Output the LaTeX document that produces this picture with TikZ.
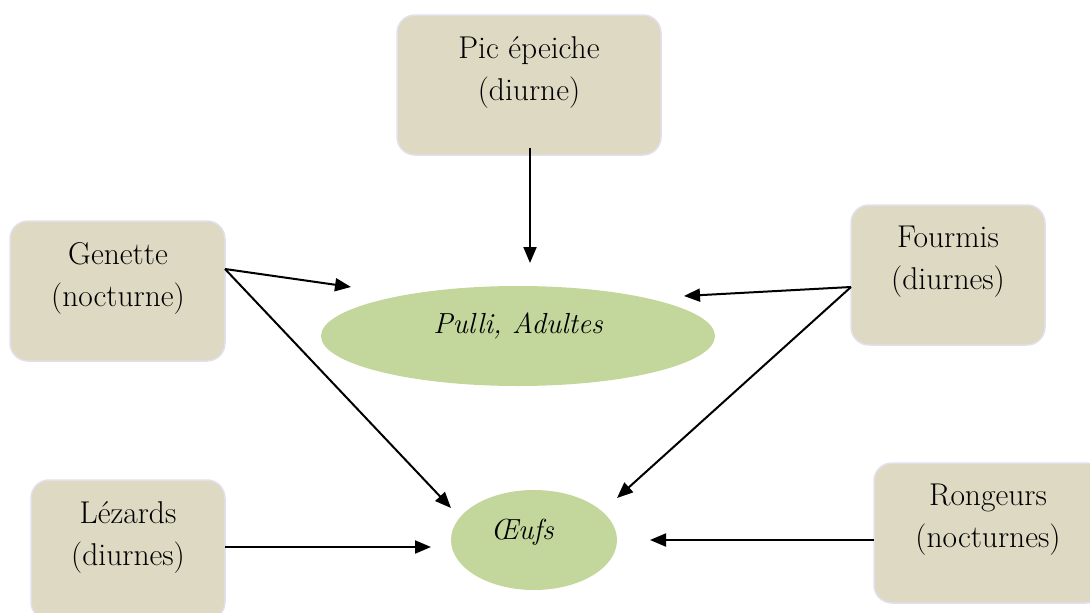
\documentclass[tikz,border=0pt]{standalone}
\usepackage{fontspec}
\usetikzlibrary{arrows.meta,shapes.geometric}
\definecolor{boxfill}{HTML}{DDD9C3}
\definecolor{boxline}{HTML}{E4DFEC}
\definecolor{ovalfill}{HTML}{C3D69B}
\tikzset{
  prey/.style={rectangle, rounded corners=18pt, fill=boxfill, draw=boxline, line width=1.5pt, inner sep=0pt},
  target/.style={ellipse, fill=ovalfill, draw=none, inner sep=0pt},
  lbl/.style={align=center, font=\fontsize{31.5}{42}\selectfont, inner sep=0pt},
  ilbl/.style={align=center, font=\fontsize{29}{42}\selectfont\itshape, inner sep=0pt},
  link/.style={line width=2pt, -{Triangle[length=16pt,width=13pt]}}
}
\begin{document}
\begin{tikzpicture}[x=1pt,y=-1pt]
  \useasboundingbox (0,0) rectangle (1090,613);
  \clip (0,0) rectangle (1090,613);

  % predator boxes
  \node[prey, minimum width=264pt, minimum height=140pt] (pic) at (529,85) {};
  \node[lbl] (pict) at (529,72) {Pic épeiche\\(diurne)};

  \node[prey, minimum width=215pt, minimum height=140pt] (gen) at (117.5,291) {};
  \node[lbl] (gent) at (118,278) {Genette\\(nocturne)};

  \node[prey, minimum width=194pt, minimum height=140pt] (fou) at (948,275) {};
  \node[lbl] (fout) at (948,262) {Fourmis\\(diurnes)};

  \node[prey, minimum width=194pt, minimum height=140pt] (lez) at (128,550) {};
  \node[lbl] (lezt) at (128,537) {Lézards\\(diurnes)};

  \node[prey, minimum width=230pt, minimum height=140pt] (ron) at (989,533) {};
  \node[lbl] (ront) at (988,520) {Rongeurs\\(nocturnes)};

  % prey stages
  \node[target, minimum width=394pt, minimum height=100pt] (pul) at (518,336) {};
  \node[ilbl] (pult) at (518,326) {Pulli, Adultes};

  \node[target, minimum width=166pt, minimum height=100pt] (oeu) at (534,540) {};
  \node[ilbl] (oeut) at (522,532) {Œufs};

  % connector ends
  \coordinate (picS) at (530,148);
  \coordinate (pulN) at (530,263);
  \coordinate (genE) at (225,269);
  \coordinate (pulW) at (351,287);
  \coordinate (oeuNW) at (451,508);
  \coordinate (fouW) at (851,287);
  \coordinate (pulE) at (684,296);
  \coordinate (oeuNE) at (617,498);
  \coordinate (lezE) at (225,547);
  \coordinate (oeuW) at (431,547);
  \coordinate (ronW) at (874,540);
  \coordinate (oeuE) at (650,540);

  \draw[link] (picS) -- (pulN);
  \draw[link] (genE) -- (pulW);
  \draw[link] (genE) -- (oeuNW);
  \draw[link] (fouW) -- (pulE);
  \draw[link] (fouW) -- (oeuNE);
  \draw[link] (lezE) -- (oeuW);
  \draw[link] (ronW) -- (oeuE);
\end{tikzpicture}
\end{document}
